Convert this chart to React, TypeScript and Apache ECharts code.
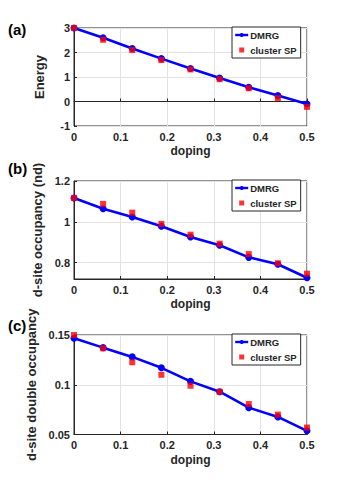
import React, { useEffect, useRef } from "react";
import * as echarts from "echarts";

const doping = [0, 0.0625, 0.125, 0.1875, 0.25, 0.3125, 0.375, 0.4375, 0.5];
const xTicks = [0, 0.1, 0.2, 0.3, 0.4, 0.5];

const energyDMRG = [3.0, 2.6, 2.16, 1.75, 1.35, 0.96, 0.58, 0.24, -0.1];
const energySP = [3.0, 2.52, 2.1, 1.69, 1.31, 0.91, 0.54, 0.14, -0.22];

const ndDMRG = [1.117, 1.064, 1.024, 0.978, 0.926, 0.885, 0.826, 0.792, 0.726];
const ndSP = [1.117, 1.088, 1.045, 0.99, 0.937, 0.893, 0.842, 0.797, 0.746];

const dblDMRG = [0.1467, 0.1373, 0.128, 0.117, 0.1034, 0.093, 0.077, 0.0677, 0.0537];
const dblSP = [0.15, 0.1366, 0.1226, 0.11, 0.099, 0.093, 0.0806, 0.07, 0.057];

const energyTicks = [-1, 0, 1, 2, 3];
const ndTicks = [0.8, 1, 1.2];
const dblTicks = [0.05, 0.1, 0.15];

const panelLabels = ["(a)", "(b)", "(c)"];
const yNames = ["Energy", "d-site occupancy (nd)", "d-site double occupancy"];
const xName = "doping";

const DARK = "#262626";
const FONT = "Liberation Sans, Arial, sans-serif";

export default function App() {
  const ref = useRef<HTMLDivElement>(null);

  useEffect(() => {
    if (!ref.current) return;
    const chart = echarts.init(ref.current, undefined, { renderer: "svg" });

    const grids = [
      { left: 74, top: 28, width: 233, height: 98 },
      { left: 74, top: 181, width: 233, height: 98 },
      { left: 74, top: 335, width: 233, height: 99.5 },
    ];
    const yRanges = [
      { min: -1, max: 3, ticks: energyTicks },
      { min: 0.72, max: 1.2, ticks: ndTicks },
      { min: 0.05, max: 0.15, ticks: dblTicks },
    ];
    const dmrgSets = [energyDMRG, ndDMRG, dblDMRG];
    const spSets = [energySP, ndSP, dblSP];

    const xAxis = grids.map((_, i) => ({
      type: "value",
      gridIndex: i,
      min: 0,
      max: 0.5,
      interval: 0.1,
      name: xName,
      nameLocation: "middle",
      nameGap: 19,
      nameTextStyle: { color: DARK, fontWeight: "bold", fontSize: 12, fontFamily: FONT },
      axisLine: { show: true, lineStyle: { color: DARK, width: 1 } },
      axisTick: { show: true, inside: true, length: 3, lineStyle: { color: DARK }, customValues: xTicks },
      axisLabel: {
        color: DARK,
        fontWeight: "bold",
        fontSize: 11,
        fontFamily: FONT,
        margin: 5,
        customValues: xTicks,
        formatter: (v: number) => String(Math.round(v * 10) / 10),
      },
      splitLine: { show: true, lineStyle: { color: "#e3e3e3", width: 1 } },
    }));

    const yAxis = grids.map((_, i) => ({
      type: "value",
      gridIndex: i,
      min: yRanges[i].min,
      max: yRanges[i].max,
      name: yNames[i],
      nameLocation: "middle",
      nameGap: 28,
      nameRotate: 90,
      nameTextStyle: { color: DARK, fontWeight: "bold", fontSize: 13, fontFamily: FONT },
      axisLine: { show: true, lineStyle: { color: DARK, width: 1 } },
      axisTick: { show: true, inside: true, length: 3, lineStyle: { color: DARK }, customValues: yRanges[i].ticks },
      axisLabel: {
        color: DARK,
        fontWeight: "bold",
        fontSize: 11,
        fontFamily: FONT,
        margin: 4,
        customValues: yRanges[i].ticks,
        formatter: (v: number) => String(Math.round(v * 100) / 100),
      },
      splitLine: { show: true, lineStyle: { color: "#e3e3e3", width: 1 } },
    }));

    const series: any[] = [];
    grids.forEach((_, i) => {
      series.push({
        name: "DMRG",
        type: "line",
        xAxisIndex: i,
        yAxisIndex: i,
        data: doping.map((x, k) => [x, dmrgSets[i][k]]),
        symbol: "circle",
        symbolSize: 7,
        showSymbol: true,
        lineStyle: { color: "#0000ff", width: 2.6 },
        itemStyle: { color: "#0000ff" },
        z: 2,
      });
      series.push({
        name: "cluster SP",
        type: "scatter",
        xAxisIndex: i,
        yAxisIndex: i,
        data: doping.map((x, k) => [x, spSets[i][k]]),
        symbol: "rect",
        symbolSize: 6,
        itemStyle: { color: "#ff0000" },
        z: 3,
      });
    });

    const legendTops = [27, 180, 334];
    const legend = legendTops.map((t) => ({
      orient: "vertical",
      left: 232,
      top: t,
      data: ["DMRG", { name: "cluster SP", icon: "path://M0,0L10,0L10,10L0,10Z" }],
      symbolKeepAspect: true,
      backgroundColor: "#ffffff",
      borderColor: DARK,
      borderWidth: 1,
      padding: [3, 4, 3, 2],
      itemGap: 5,
      itemWidth: 13,
      itemHeight: 5,
      lineStyle: { width: 2.4 },
      textStyle: { color: DARK, fontWeight: "bold", fontSize: 9.5, fontFamily: FONT, padding: [0, 0, 0, -3] },
    }));

    const labelYs = [30, 169, 326];
    const graphic = panelLabels.map((t, i) => ({
      type: "text",
      left: 8,
      top: labelYs[i] - 8,
      z: 10,
      style: { text: t, fill: "#000", font: `bold 15px ${FONT}` },
    }));

    chart.setOption({
      animation: false,
      backgroundColor: "#ffffff",
      grid: grids.map((g) => ({ ...g, show: true, borderColor: DARK, borderWidth: 1, backgroundColor: "transparent" })),
      xAxis,
      yAxis,
      series,
      legend,
      graphic,
    });

    return () => chart.dispose();
  }, []);

  return (
    <div
      ref={ref}
      style={{ position: "fixed", left: 0, top: 0, width: 340, height: 480 }}
    />
  );
}
